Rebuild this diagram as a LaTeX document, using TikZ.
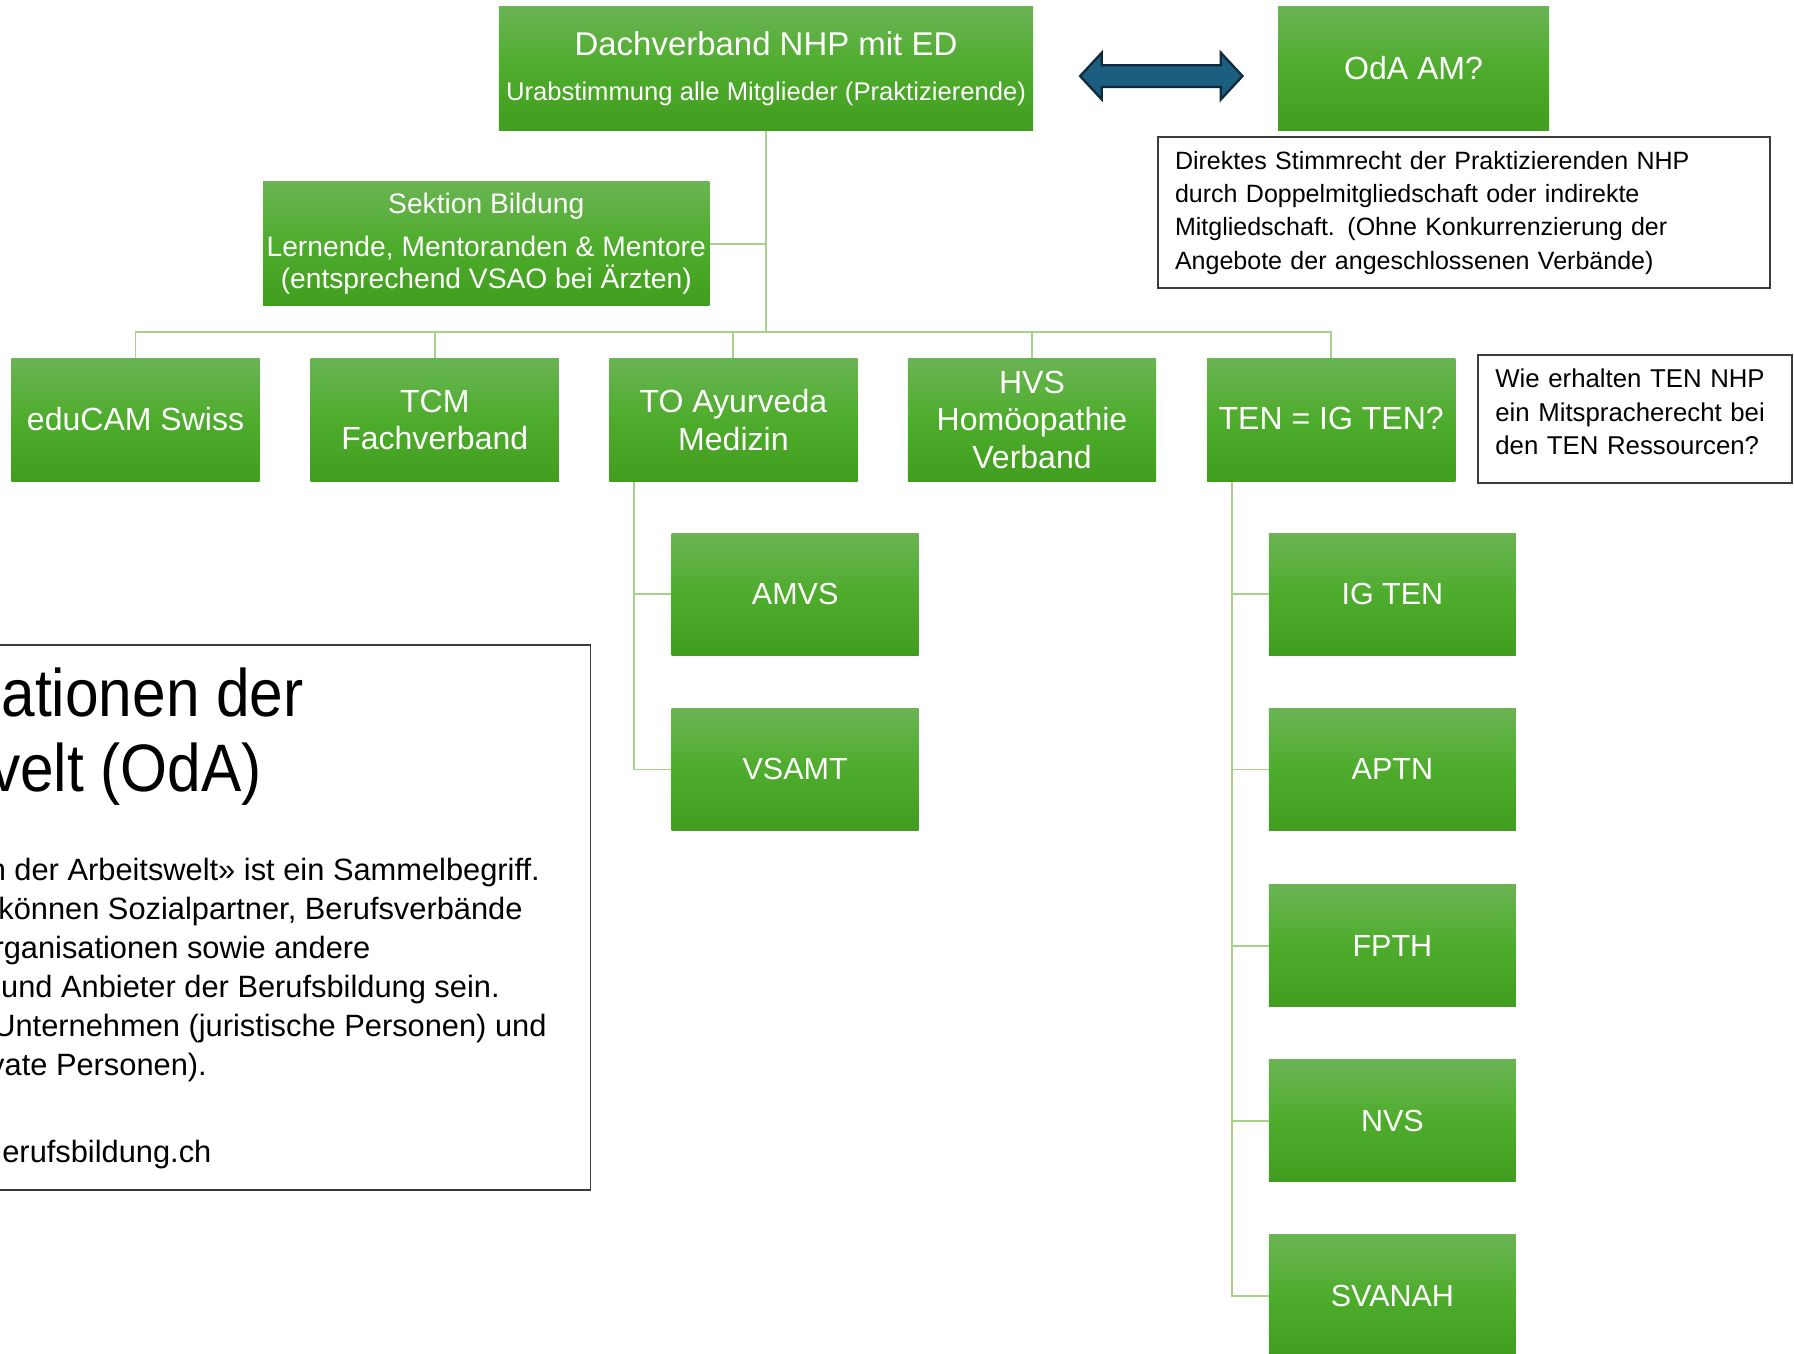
\documentclass[tikz,border=0pt]{standalone}
\usepackage{fontspec}
\setmainfont{Liberation Sans}
\usetikzlibrary{calc}
\definecolor{gtop}{RGB}{106,180,84}
\definecolor{gmid}{RGB}{78,172,44}
\definecolor{gbot}{RGB}{65,157,30}
\definecolor{connc}{RGB}{169,209,142}
\definecolor{arrfill}{RGB}{27,94,128}
\definecolor{arrdraw}{RGB}{14,42,59}
\definecolor{bord}{RGB}{60,60,60}
\newcommand{\setfs}[2]{\fontsize{#1}{#2}\selectfont}
\begin{document}
\begin{tikzpicture}[x=0.75pt,y=-0.75pt,
  gbox/.style={inner sep=0pt, align=center, text=white, top color=gtop, bottom color=gbot, middle color=gmid, draw=none,
    minimum width=162.75pt, minimum height=80.5pt, font=\setfs{21}{24.75}},
  cbox/.style={gbox, minimum width=162pt, minimum height=80.25pt, font=\setfs{20}{24}},
  note/.style={draw=bord, line width=1.1pt, fill=white, align=left, inner sep=0pt, text=black},
  conline/.style={draw=connc, line width=1.2pt},
  frag/.style={anchor=base east, inner sep=0pt, text=black}]
\useasboundingbox (0,0) rectangle (1568,1183);
\clip (0,0) rectangle (1568,1183);

% top boxes
\node[gbox, minimum width=350.25pt, minimum height=81pt] (dach) at (669.5,60)
  {\setfs{21.6}{26}Dachverband NHP mit ED\\[5pt]\setfs{16.8}{20}Urabstimmung alle Mitglieder (Praktizierende)};
\node[gbox, minimum width=177.75pt, minimum height=81pt] (oda) at (1235.5,60) {\raisebox{1.5pt}{OdA AM?}};
\draw[fill=arrfill, draw=arrdraw, line width=1.5pt, line join=miter]
  (944,66.5) -- (963,46) -- (963,57) -- (1067,57) -- (1067,46) -- (1086,66.5)
  -- (1067,87) -- (1067,76) -- (963,76) -- (963,87) -- cycle;

\node[note, minimum width=401.25pt, minimum height=99pt, text width=378.75pt, font=\setfs{16.4}{21.75}] (direkt) at (1279.5,186)
  {Direktes Stimmrecht der Praktizierenden NHP\\durch Doppelmitgliedschaft oder indirekte\\Mitgliedschaft. (Ohne Konkurrenzierung der\\Angebote der angeschlossenen Verbände)};

\node[gbox, minimum width=292.5pt, minimum height=81pt, font=\setfs{18.5}{21}] (sektion) at (425,213)
  {Sektion Bildung\\[7.5pt]Lernende, Mentoranden \& Mentore\\(entsprechend VSAO bei Ärzten)};

% row of members
\node[gbox] (educam) at (118.5,367) {\raisebox{1.5pt}{eduCAM Swiss}};
\node[gbox] (tcm) at (380,367) {TCM\\Fachverband};
\node[gbox] (to) at (641,367) {TO Ayurveda\\Medizin};
\node[gbox] (hvs) at (902,367) {HVS\\Homöopathie\\Verband};
\node[gbox] (ten) at (1163.5,367) {\raisebox{1.5pt}{TEN = IG TEN?}};

\node[note, minimum width=205.5pt, minimum height=84pt] (wie) at (1429,366) {};
\node[align=left, inner sep=0pt, text width=183pt, font=\setfs{16.9}{21.75}] (wietext) at ($(wie.center)+(0,-6)$)
  {Wie erhalten TEN NHP\\ein Mitspracherecht bei\\den TEN Ressourcen?};

% children
\node[cbox] (amvs) at (695,519.5) {AMVS};
\node[cbox] (vsamt) at (695,672.5) {VSAMT};
\node[cbox] (igten) at (1217,519.5) {IG TEN};
\node[cbox] (aptn) at (1217,672.5) {APTN};
\node[cbox] (fpth) at (1217,826.5) {FPTH};
\node[cbox] (nvs) at (1217,979.5) {NVS};
\node[cbox] (svanah) at (1217,1132.5) {SVANAH};

% connectors
\coordinate (bus) at (669.5,290);
\draw[conline] (dach.south) -- (bus);
\draw[conline] (sektion.east) -- (sektion.east -| dach.south);
\foreach \n in {educam,tcm,to,hvs,ten} {\draw[conline] (bus) -| (\n.north);}
\coordinate (toleg) at ($(to.south west)+(22,0)$);
\draw[conline] (toleg) |- (amvs.west);
\draw[conline] (toleg) |- (vsamt.west);
\coordinate (tenleg) at ($(ten.south west)+(22,0)$);
\foreach \n in {igten,aptn,fpth,nvs,svanah} {\draw[conline] (tenleg) |- (\n.west);}

% left info box (cut off at the page edge)
\node[draw=bord, line width=1.1pt, minimum width=402pt, minimum height=357pt, inner sep=0pt] (odainfo) at (248,802) {};
\node[anchor=base west, inner sep=0pt, font=\setfs{44}{50}] (h1) at (1,626) {\scalebox{0.9}[1]{ationen der}};
\node[anchor=base west, inner sep=0pt, font=\setfs{44}{50}] (h2) at (-9,692) {\scalebox{0.9}[1]{velt (OdA)}};
\begin{scope}[every node/.style={frag, font=\setfs{20.2}{25}}]
\node (b1) at (472,770) {n der Arbeitswelt» ist ein Sammelbegriff.};
\node (b2) at (457,804) {können Sozialpartner, Berufsverbände};
\node (b3) at (324,838) {rganisationen sowie andere};
\node (b4) at (437,872) {und Anbieter der Berufsbildung sein.};
\node (b5) at (478,906) {Unternehmen (juristische Personen) und};
\node (b6) at (181,940) {vate Personen).};
\node (b7) at (185,1016) {erufsbildung.ch};
\end{scope}
\end{tikzpicture}
\end{document}
